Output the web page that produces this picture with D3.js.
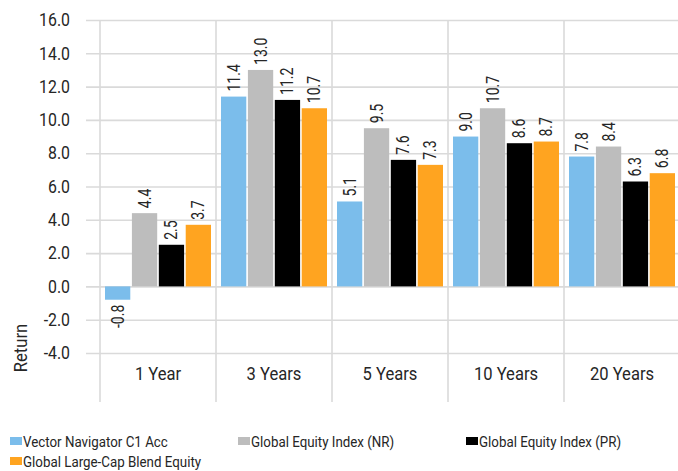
<!DOCTYPE html>
<html>
<head>
<meta charset="utf-8">
<script src="https://cdn.jsdelivr.net/npm/d3@7"></script>
<style>
  body { margin: 0; background: #fff; }
  svg text { font-family: "Roboto", sans-serif; fill: #262626; }
</style>
</head>
<body>
<div id="chart"></div>
<script>
const periods = ["1 Year", "3 Years", "5 Years", "10 Years", "20 Years"]
const seriesNames = ["Vector Navigator C1 Acc", "Global Equity Index (NR)", "Global Equity Index (PR)", "Global Large-Cap Blend Equity"]
const fundValues = [-0.8, 11.4, 5.1, 9.0, 7.8]
const nrValues = [4.4, 13.0, 9.5, 10.7, 8.4]
const prValues = [2.5, 11.2, 7.6, 8.6, 6.3]
const categoryValues = [3.7, 10.7, 7.3, 8.7, 6.8]
const yTicks = [-4, -2, 0, 2, 4, 6, 8, 10, 12, 14, 16]

const COLORS = ["#7bbdeb", "#bdbdbd", "#000000", "#ffa420"]
const W = 678, H = 471
const PLOT = { LEFT: 100, RIGHT: 680, TOP: 20, BOTTOM: 353 }
const fmt = v => v.toFixed(1)

// squeeze text horizontally to mimic the condensed face of the original
function condense(sel, k) {
	sel.each(function() {
		const len = this.getComputedTextLength()
		d3.select(this)
			.attr("textLength", len * k)
			.attr("lengthAdjust", "spacingAndGlyphs")
	})
}

const allSeries = [fundValues, nrValues, prValues, categoryValues]
const data = periods.map((p, i) => ({
	period: p,
	values: seriesNames.map((s, j) => ({ name: s, value: allSeries[j][i], idx: j }))
}))

const svg = d3.select("#chart").append("svg")
	.attr("width", W)
	.attr("height", H)

const x0 = d3.scaleBand()
	.domain(periods)
	.range([PLOT.LEFT, PLOT.RIGHT])

const x1 = d3.scaleBand()
	.domain(seriesNames)
	.range([5, x0.bandwidth() - 5])
	.paddingInner(0.06)

const y = d3.scaleLinear()
	.domain([-4, 16])
	.range([PLOT.BOTTOM, PLOT.TOP])

// horizontal gridlines + y tick labels
const yAxis = svg.append("g")
	.attr("transform", `translate(86,0)`)
	.call(d3.axisLeft(y).tickValues(yTicks).tickFormat(fmt)
		.tickSize(-(PLOT.RIGHT - 86)).tickPadding(16))
yAxis.select(".domain").remove()
yAxis.selectAll("line").attr("stroke", "#dadada").attr("stroke-width", 1.6)
yAxis.selectAll("text").style("font-size", "18px").style("fill", "#262626").call(condense, 0.88)

// vertical category separators
const bounds = periods.map(p => x0(p)).concat([PLOT.RIGHT - 1])
svg.append("g").selectAll("line")
	.data(bounds)
	.join("line")
		.attr("x1", d => d).attr("x2", d => d)
		.attr("y1", PLOT.TOP).attr("y2", 402)
		.attr("stroke", "#dadada")
		.attr("stroke-width", 1.6)

// category labels
const xAxis = svg.append("g")
	.attr("transform", `translate(0,${PLOT.BOTTOM})`)
	.call(d3.axisBottom(x0).tickSize(0).tickPadding(14))
xAxis.select(".domain").remove()
xAxis.selectAll("text").style("font-size", "18px").style("fill", "#262626").call(condense, 0.92)

// bars
const groups = svg.append("g").selectAll("g")
	.data(data)
	.join("g")
		.attr("transform", d => `translate(${x0(d.period)},0)`)

groups.selectAll("rect")
	.data(d => d.values)
	.join("rect")
		.attr("x", d => x1(d.name))
		.attr("width", x1.bandwidth())
		.attr("y", d => y(Math.max(0, d.value)))
		.attr("height", d => Math.abs(y(d.value) - y(0)))
		.attr("fill", d => COLORS[d.idx])

// value labels
groups.selectAll("text.val")
	.data(d => d.values)
	.join("text")
		.attr("class", "val")
		.attr("transform", d => {
			const cx = x1(d.name) + x1.bandwidth() / 2 + 6
			const yy = d.value >= 0 ? y(d.value) - 5 : y(d.value) + 5
			return `translate(${cx},${yy}) rotate(-90)`
		})
		.attr("text-anchor", d => d.value >= 0 ? "start" : "end")
		.style("font-size", "18px")
		.text(d => fmt(d.value))
		.call(condense, 0.78)

// y title
svg.append("text")
	.attr("transform", `translate(27,348) rotate(-90)`)
	.attr("text-anchor", "middle")
	.style("font-size", "18px")
	.text("Return")
	.call(condense, 0.92)

// legend
const legendPos = [[10, 442], [238, 442], [466, 442], [10, 462]]
const legend = svg.append("g").selectAll("g")
	.data(seriesNames)
	.join("g")
		.attr("transform", (d, i) => `translate(${legendPos[i][0]},${legendPos[i][1]})`)
legend.append("rect")
	.attr("x", 0).attr("y", -5)
	.attr("width", 12).attr("height", 8)
	.attr("fill", (d, i) => COLORS[i])
legend.append("text")
	.attr("x", 13).attr("y", 5)
	.style("font-size", "15.5px")
	.text(d => d)
	.call(condense, 0.86)
</script>
</body>
</html>
